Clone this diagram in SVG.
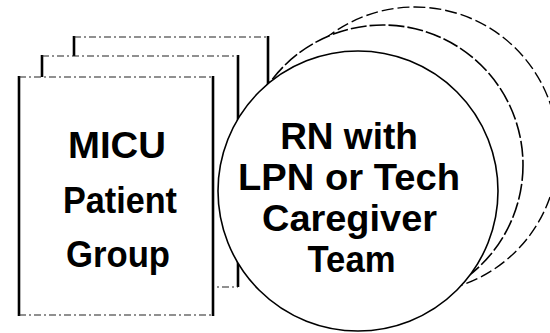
<svg xmlns="http://www.w3.org/2000/svg" width="550" height="333" viewBox="0 0 550 333">
  <style>
    .bg { fill: #ffffff; stroke: none; }
    .side { stroke: #000000; stroke-width: 2.6; fill: none; stroke-linecap: butt; }
    .edge { stroke: #222222; stroke-width: 1.1; fill: none; stroke-dasharray: 7 3 2 3; }
    .ring { fill: #ffffff; stroke: #000000; stroke-width: 1.6; }
    .ring.back { stroke-width: 1.4; stroke-dasharray: 12 4; }
    .ring.mid { stroke-dasharray: 16 3; }
    .lbl { font-family: "Liberation Sans", Arial, Helvetica, sans-serif; font-weight: bold; font-size: 37px; fill: #000000; text-anchor: middle; }
  </style>
  <rect width="550" height="333" fill="#ffffff"/>
  <g id="micu-patient-group">
    <!-- back sheet -->
    <rect class="bg" x="74" y="37" width="194" height="228"/>
    <line class="side" x1="74" y1="36" x2="74" y2="57"/>
    <line class="side" x1="268" y1="36" x2="268" y2="265"/>
    <line class="edge" x1="74" y1="37" x2="268" y2="37"/>
    <!-- middle sheet -->
    <rect class="bg" x="42" y="56" width="196" height="231"/>
    <line class="side" x1="42" y1="55" x2="42" y2="78"/>
    <line class="side" x1="238" y1="55" x2="238" y2="287"/>
    <line class="edge" x1="42" y1="56" x2="238" y2="56"/>
    <line class="edge" x1="42" y1="287" x2="238" y2="287"/>
    <!-- front sheet -->
    <rect class="bg" x="19" y="77" width="194" height="238"/>
    <line class="side" x1="19" y1="76" x2="19" y2="316"/>
    <line class="side" x1="213" y1="76" x2="213" y2="316"/>
    <line class="edge" x1="19" y1="77" x2="213" y2="77"/>
    <line class="edge" x1="19" y1="315" x2="213" y2="315"/>
    <text class="lbl" x="117" y="158" textLength="98" lengthAdjust="spacingAndGlyphs">MICU</text>
    <text class="lbl" x="120" y="213" textLength="114" lengthAdjust="spacingAndGlyphs">Patient</text>
    <text class="lbl" x="118" y="267" textLength="104" lengthAdjust="spacingAndGlyphs">Group</text>
  </g>
  <g id="caregiver-team">
    <circle class="ring back" cx="415" cy="150" r="143"/>
    <circle class="ring mid" cx="383" cy="165" r="140"/>
    <circle class="ring" cx="358" cy="191" r="140"/>
    <text class="lbl" x="349" y="149">RN with</text>
    <text class="lbl" x="349" y="190" textLength="222" lengthAdjust="spacingAndGlyphs">LPN or Tech</text>
    <text class="lbl" x="349.5" y="231" textLength="175" lengthAdjust="spacingAndGlyphs">Caregiver</text>
    <text class="lbl" x="351.5" y="272" textLength="88" lengthAdjust="spacingAndGlyphs">Team</text>
  </g>
  <g id="connectors"/>
</svg>
